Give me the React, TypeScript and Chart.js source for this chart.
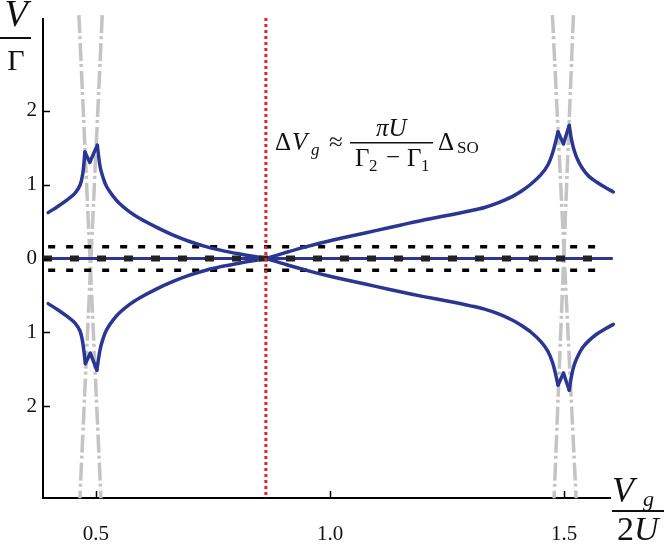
import React, { useEffect, useRef } from 'react';
import { Chart, registerables } from 'chart.js';

Chart.register(...registerables);

// ---- axis ticks ----
const xTicks = [0.5, 1.0, 1.5];
const xTickLabels = ['0.5', '1.0', '1.5'];
const yTicks = [-2, -1, 0, 1, 2];
const yTickLabels = ['2', '1', '0', '1', '2'];

// ---- curve A: upper-left branch, then lower-right branch ----
const curveAX = [
  0.398, 0.42, 0.44, 0.455, 0.466, 0.472, 0.4765, 0.487, 0.503, 0.509, 0.516, 0.523, 0.537, 0.551,
  0.572, 0.594, 0.63, 0.665, 0.70, 0.737, 0.775, 0.808, 0.835, 0.863,
  0.90, 0.95, 1.0, 1.05, 1.10, 1.15, 1.20, 1.25, 1.30, 1.33, 1.36, 1.39, 1.41, 1.43, 1.45, 1.465,
  1.476, 1.487, 1.4986, 1.511, 1.516, 1.522, 1.530, 1.540, 1.553, 1.57, 1.588, 1.605,
];
const curveAY = [
  0.62, 0.71, 0.80, 0.88, 0.99, 1.15, 1.44, 1.30, 1.53, 1.24, 1.08, 0.97, 0.84, 0.74,
  0.63, 0.54, 0.42, 0.315, 0.23, 0.157, 0.10, 0.06, 0.03, 0.0,
  -0.07, -0.16, -0.24, -0.31, -0.38, -0.45, -0.515, -0.575, -0.64, -0.685, -0.75, -0.835, -0.91, -1.00, -1.12, -1.25,
  -1.42, -1.71, -1.55, -1.78, -1.58, -1.43, -1.31, -1.20, -1.11, -1.02, -0.95, -0.89,
];

// ---- curve B: lower-left branch, then upper-right branch ----
const curveBX = [
  0.398, 0.42, 0.44, 0.455, 0.466, 0.472, 0.4775, 0.488, 0.502, 0.509, 0.516, 0.523, 0.537, 0.551,
  0.572, 0.594, 0.63, 0.665, 0.70, 0.737, 0.775, 0.808, 0.835, 0.863,
  0.90, 0.95, 1.0, 1.05, 1.10, 1.15, 1.20, 1.25, 1.30, 1.33, 1.36, 1.39, 1.41, 1.43, 1.45, 1.465,
  1.476, 1.487, 1.4986, 1.511, 1.516, 1.522, 1.530, 1.540, 1.553, 1.57, 1.588, 1.605,
];
const curveBY = [
  -0.61, -0.70, -0.79, -0.87, -0.98, -1.14, -1.42, -1.28, -1.51, -1.23, -1.07, -0.96, -0.83, -0.73,
  -0.62, -0.53, -0.41, -0.31, -0.225, -0.155, -0.10, -0.06, -0.03, 0.0,
  0.07, 0.16, 0.24, 0.31, 0.38, 0.45, 0.52, 0.58, 0.645, 0.69, 0.755, 0.84, 0.915, 1.01, 1.13, 1.26,
  1.44, 1.71, 1.55, 1.80, 1.60, 1.45, 1.32, 1.21, 1.11, 1.03, 0.96, 0.90,
];

// ---- grey dash-dot lines ----
const greyLeftAX = [0.4637, 0.5107];
const greyLeftBX = [0.5135, 0.4658];
const greyRightAX = [1.475, 1.5256];
const greyRightBX = [1.5199, 1.4786];
const greyY = [3.29, -3.24];

// ---- horizontal reference lines ----
const zeroLineX = [0.387, 1.604];
const zeroDashX = [0.387, 1.59];
const bandX = [0.398, 1.587];
const zeroY = [0, 0];
const bandUpperY = [0.16, 0.16];
const bandLowerY = [-0.16, -0.16];

// ---- red dotted marker ----
const redX = [0.863, 0.863];
const redY = [3.25, -3.24];

type P = { x: number; y: number };
const zip = (xs: number[], ys: number[]): P[] => xs.map((x, i) => ({ x, y: ys[i] }));

// split a curve at its sharp cusps (local extrema) so each piece can be smoothed
const splitAtCusps = (pts: P[]): P[][] => {
  const pieces: P[][] = [];
  let cur: P[] = [pts[0]];
  for (let i = 1; i < pts.length; i++) {
    cur.push(pts[i]);
    if (i < pts.length - 1) {
      const d1 = pts[i].y - pts[i - 1].y;
      const d2 = pts[i + 1].y - pts[i].y;
      if (d1 * d2 < 0 && Math.abs(pts[i].y) > 1) {
        pieces.push(cur);
        cur = [pts[i]];
      }
    }
  }
  pieces.push(cur);
  return pieces;
};

const BLUE = '#2b3592';
const GREY = '#c4c4c4';

const App: React.FC = () => {
  const ref = useRef<HTMLCanvasElement | null>(null);

  useEffect(() => {
    if (!ref.current) return;

    const line = (data: P[], extra: any) => ({
      data,
      showLine: true,
      pointRadius: 0,
      pointHoverRadius: 0,
      fill: false,
      tension: 0,
      ...extra,
    });

    const inwardTicksAndText = {
      id: 'inwardTicksAndText',
      afterDraw(chart: any) {
        const { ctx, chartArea, scales } = chart;
        const xs = scales.x;
        const ys = scales.y;
        ctx.save();
        ctx.strokeStyle = '#000';
        ctx.lineWidth = 1.5;
        ctx.beginPath();
        yTicks.forEach((v) => {
          const py = Math.round(ys.getPixelForValue(v)) + 0.5;
          ctx.moveTo(chartArea.left, py);
          ctx.lineTo(chartArea.left + 7, py);
        });
        xTicks.forEach((v) => {
          const px = Math.round(xs.getPixelForValue(v)) + 0.5;
          ctx.moveTo(px, chartArea.bottom);
          ctx.lineTo(px, chartArea.bottom - 7);
        });
        ctx.stroke();

        const serif = "'Liberation Serif', 'DejaVu Serif', serif";
        ctx.fillStyle = '#111';
        ctx.textBaseline = 'alphabetic';

        // V / Gamma (y label)
        ctx.textAlign = 'center';
        ctx.font = `italic 38px ${serif}`;
        ctx.fillText('V', 16, 26);
        ctx.fillRect(0, 37, 31, 2);
        ctx.font = `30px ${serif}`;
        ctx.fillText('Γ', 16, 70);

        // Vg / 2U (x label)
        ctx.textAlign = 'left';
        ctx.font = `italic 36px ${serif}`;
        ctx.fillText('V', 612, 502);
        ctx.font = `italic 22px ${serif}`;
        ctx.fillText('g', 643, 506);
        ctx.fillRect(612, 510, 52, 2);
        ctx.font = `34px ${serif}`;
        ctx.fillText('2', 617, 540);
        ctx.font = `italic 34px ${serif}`;
        ctx.fillText('U', 634, 540);

        // annotation
        ctx.font = `25px ${serif}`;
        ctx.fillText('Δ', 275, 150);
        ctx.font = `italic 25px ${serif}`;
        ctx.fillText('V', 292, 150);
        ctx.font = `italic 17px ${serif}`;
        ctx.fillText('g', 311, 155);
        ctx.font = `25px ${serif}`;
        ctx.fillText('≈', 329, 150);
        ctx.fillRect(350, 142, 83, 1.5);
        ctx.font = `italic 25px ${serif}`;
        ctx.fillText('πU', 376, 136);
        ctx.font = `25px ${serif}`;
        ctx.fillText('Γ', 355, 166);
        ctx.font = `17px ${serif}`;
        ctx.fillText('2', 369, 171);
        ctx.font = `25px ${serif}`;
        ctx.fillText('−', 386, 165);
        ctx.fillText('Γ', 407, 166);
        ctx.font = `17px ${serif}`;
        ctx.fillText('1', 421, 171);
        ctx.font = `25px ${serif}`;
        ctx.fillText('Δ', 438, 150);
        ctx.font = `17px ${serif}`;
        ctx.fillText('SO', 457, 153);
        ctx.restore();
      },
    };

    const bluePieces = [
      ...splitAtCusps(zip(curveAX, curveAY)),
      ...splitAtCusps(zip(curveBX, curveBY)),
    ].map((pts) =>
      line(pts, { borderColor: BLUE, borderWidth: 3.5, order: 4, clip: false, tension: 0.35, borderCapStyle: 'round', borderJoinStyle: 'round' })
    );

    const chart = new Chart(ref.current, {
      type: 'scatter',
      data: {
        datasets: [
          line(zip(redX, redY), { borderColor: '#e8202a', borderWidth: 3, borderDash: [3, 3], order: 1, clip: false }),
          line(zip(zeroDashX, zeroY), { borderColor: '#222', borderWidth: 6, borderDash: [9, 18], order: 2 }),
          line(zip(zeroLineX, zeroY), { borderColor: BLUE, borderWidth: 3, order: 3, clip: false }),
          ...bluePieces,
          line(zip(bandX, bandUpperY), { borderColor: '#000', borderWidth: 3.5, borderDash: [7, 11], order: 5 }),
          line(zip(bandX, bandLowerY), { borderColor: '#000', borderWidth: 3.5, borderDash: [7, 11], order: 5 }),
          line(zip(greyLeftAX, greyY), { borderColor: GREY, borderWidth: 3.5, borderDash: [18, 3, 3, 4], order: 6, clip: false }),
          line(zip(greyLeftBX, greyY), { borderColor: GREY, borderWidth: 3.5, borderDash: [18, 3, 3, 4], order: 6, clip: false }),
          line(zip(greyRightAX, greyY), { borderColor: GREY, borderWidth: 3.5, borderDash: [18, 3, 3, 4], order: 6, clip: false }),
          line(zip(greyRightBX, greyY), { borderColor: GREY, borderWidth: 3.5, borderDash: [18, 3, 3, 4], order: 6, clip: false }),
        ],
      },
      options: {
        animation: false,
        responsive: false,
        maintainAspectRatio: false,
        events: [],
        layout: { padding: { top: 19, right: 54, left: 0, bottom: 0 } },
        plugins: { legend: { display: false }, tooltip: { enabled: false } },
        scales: {
          x: {
            type: 'linear',
            min: 0.387,
            max: 1.598,
            grid: { display: false, drawTicks: false },
            border: { display: true, color: '#000', width: 2 },
            afterBuildTicks: (scale: any) => {
              scale.ticks = xTicks.map((v) => ({ value: v }));
            },
            afterFit: (scale: any) => {
              scale.height = 47;
            },
            ticks: {
              autoSkip: false,
              maxRotation: 0,
              padding: 24,
              color: '#111',
              font: { family: "'Liberation Serif', serif", size: 21 },
              callback: (_v: any, i: number) => xTickLabels[i],
            },
          },
          y: {
            type: 'linear',
            min: -3.237,
            max: 3.237,
            grid: { display: false, drawTicks: false },
            border: { display: true, color: '#000', width: 2 },
            afterBuildTicks: (scale: any) => {
              scale.ticks = yTicks.map((v) => ({ value: v }));
            },
            afterFit: (scale: any) => {
              scale.width = 43;
            },
            ticks: {
              autoSkip: false,
              padding: 6,
              color: '#111',
              font: { family: "'Liberation Serif', serif", size: 21 },
              callback: (_v: any, i: number) => yTickLabels[i],
            },
          },
        },
      },
      plugins: [inwardTicksAndText],
    } as any);

    return () => chart.destroy();
  }, []);

  return (
    <div style={{ position: 'absolute', left: 0, top: 0, width: 664, height: 545, background: '#fff' }}>
      <canvas ref={ref} width={664} height={545} style={{ display: 'block', width: 664, height: 545 }} />
    </div>
  );
};

export default App;
